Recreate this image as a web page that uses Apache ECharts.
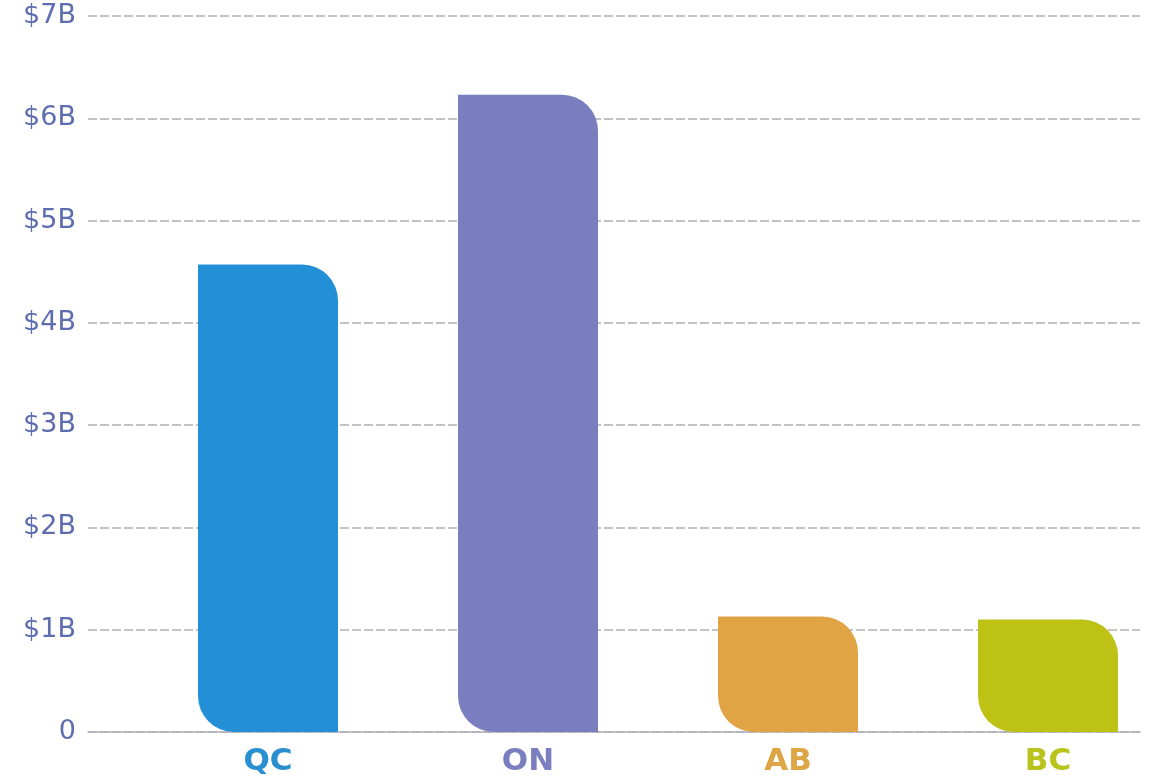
<!DOCTYPE html>
<html>
<head>
<meta charset="utf-8">
<script src="https://cdn.jsdelivr.net/npm/echarts@6/dist/echarts.min.js"></script>
<style>
html,body{margin:0;padding:0;background:#fff;}
#chart{width:1159px;height:781px;}
</style>
</head>
<body>
<div id="chart"></div>
<script>
const categories = ['QC', 'ON', 'AB', 'BC'];
const values = [4.57, 6.23, 1.13, 1.10];
const barColors = ['#238fd6', '#797ebf', '#e0a444', '#bec215'];
const labelColors = ['#2a8fd0', '#7b7fc0', '#dea545', '#b8c41c'];
const yTicks = ['0', '$1B', '$2B', '$3B', '$4B', '$5B', '$6B', '$7B'];
const categoryPositions = [0, 1, 2, 3];

const chart = echarts.init(document.getElementById('chart'));
chart.setOption({
  animation: false,
  backgroundColor: '#fff',
  grid: { left: 88, right: 19, top: 16, bottom: 49 },
  xAxis: {
    type: 'value',
    min: -0.6923, max: 3.3538,
    axisLine: { show: true, onZero: false, lineStyle: { color: '#b0b0b8', width: 1.5 } },
    axisTick: { show: false },
    splitLine: { show: false },
    axisLabel: {
      customValues: categoryPositions,
      margin: 14,
      fontSize: 31, fontWeight: 'bold', fontFamily: '"DejaVu Sans", sans-serif',
      formatter: function (v) { return categories[Math.round(v)]; },
      color: function (v) { return labelColors[Math.round(v)]; }
    }
  },
  yAxis: {
    type: 'value', min: 0, max: 7, interval: 1,
    axisLine: { show: false }, axisTick: { show: false },
    axisLabel: {
      margin: 12, fontSize: 27, fontFamily: '"DejaVu Sans", sans-serif', color: '#5d6db0',
      formatter: function (v) { return yTicks[Math.round(v)]; }
    },
    splitLine: { show: true, lineStyle: { color: '#b0b0b8', width: 1.5, type: [9, 3] } }
  },
  series: [
    {
      type: 'bar',
      barWidth: 140,
      data: values.map(function (v, i) {
        return { value: [categoryPositions[i], v], itemStyle: { color: barColors[i] } };
      }),
      itemStyle: { borderRadius: [0, 36, 0, 36] }
    }
  ]
});
</script>
</body>
</html>
